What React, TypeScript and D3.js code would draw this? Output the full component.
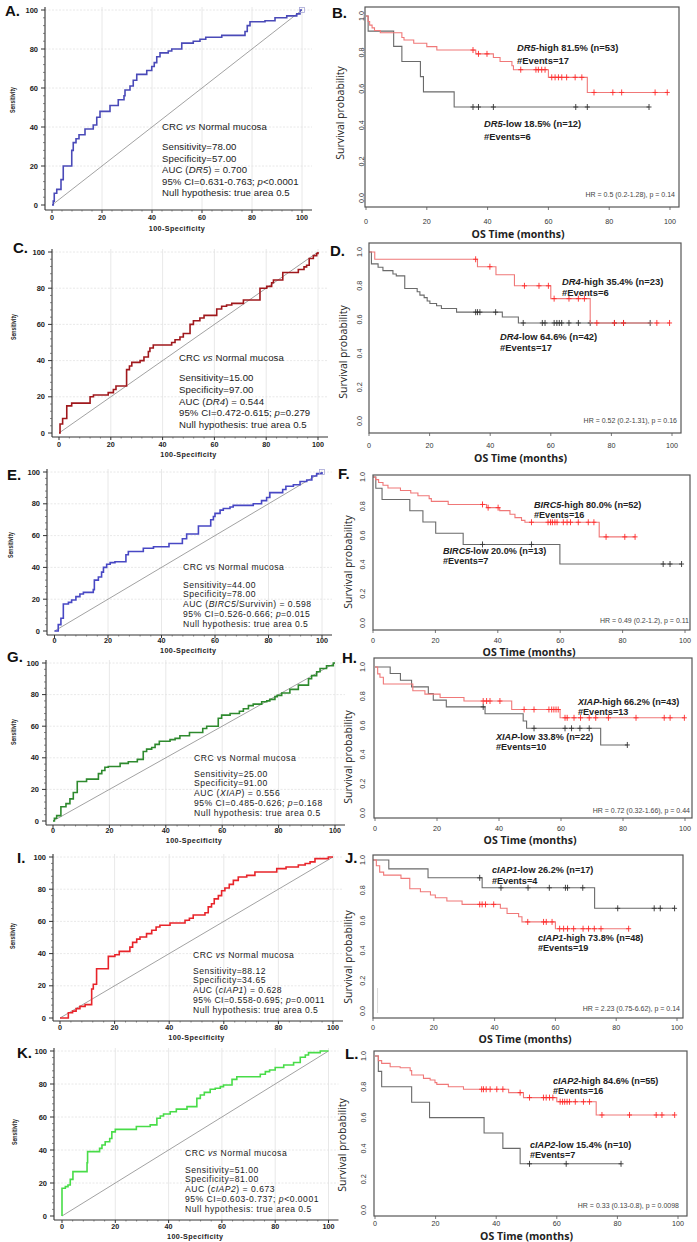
import React from "react";
import * as d3 from "d3";

// ---------- ROC data: [100-Specificity, Sensitivity] step corners ----------
const rocTicks = [0, 20, 40, 60, 80, 100];
const rocMinor = [4, 8, 12, 16, 24, 28, 32, 36, 44, 48, 52, 56, 64, 68, 72, 76, 84, 88, 92, 96];

const rocA: [number, number][] = [[0.5,2],[0.9,6],[1.9,8],[3.6,13],[4.5,20],[7.9,28],[8.5,32],[9.6,34],[10.8,36],[13.2,39],[16.5,41],[17.9,45],[19.2,48],[23.2,51],[26.5,54],[28.8,56],[29.2,59],[31.2,61],[32.5,64],[33.9,67],[37.9,69],[39.9,71],[40.9,73],[41.9,76],[43.2,78],[46.5,79],[47.9,80],[51.9,83],[56.5,84],[59.2,85],[61.5,86],[67.9,87],[77.2,89],[78.1,92],[79.2,94],[85.2,94.5],[89.2,96],[93.9,97],[97.9,98],[99.2,100],[100,100]];
const rocC: [number, number][] = [[0.4,5],[1.4,8],[3.0,15],[4.9,16.5],[12.0,20],[13.3,21],[19.0,22.3],[21.0,24],[22.0,26],[26.1,35],[27.2,37],[28.1,39],[31.3,40],[32.8,42],[34.5,45],[35.1,47],[36.4,48.6],[43.5,50],[44.8,51.5],[46.7,53],[48.0,55],[50.6,60],[51.9,62],[54.4,63.5],[56.0,65],[60.9,68.5],[62.8,70],[64.7,70.7],[66.7,71.6],[71.2,73.5],[77.6,80],[80.2,81],[82.1,83],[82.8,84.5],[86.4,88.7],[92.4,90.3],[94.6,91.8],[95.6,92.7],[96.6,96.4],[98.2,98],[99.5,99.2],[100,100]];
const rocE: [number, number][] = [[1.4,4],[2.4,8],[3.3,17],[5.2,18],[6.4,19.5],[8.0,21.6],[9.5,23.3],[10.8,24.3],[14.5,26],[14.9,32],[16.4,34],[17.6,37],[18.3,40],[19.5,42],[20.8,43],[22.6,43.6],[26.7,48],[27.6,50],[33.2,52],[37.0,53],[42.8,55],[47.8,58],[49.4,61],[53.8,66],[58.4,70],[59.4,72],[60.0,74],[61.9,76],[63.1,77],[65.6,78],[66.8,79],[74.3,80],[77.4,82],[79.3,84],[80.5,87],[85.3,89],[86.5,91],[89.3,92],[91.8,94],[94.3,95],[96.2,97.5],[98.0,99],[100,100]];
const rocG: [number, number][] = [[0.5,1.7],[1.3,3.4],[2.8,9],[4.6,11],[6.0,14],[7.2,18],[8.6,25],[11.9,26.5],[16.1,30],[17.3,32],[18.4,34],[19.6,34.5],[23.8,36.5],[26.7,37.5],[29.9,39],[32.0,44],[33.2,45.5],[35.0,46.5],[36.2,48.5],[37.7,50.5],[41.5,51.5],[43.3,52.3],[45.0,54],[48.4,56],[53.1,58.5],[54.5,60],[58.6,65],[59.8,67],[62.8,68],[66.1,69.5],[67.5,71],[69.3,73],[71.0,74],[74.0,75.5],[75.8,76],[76.9,77],[78.7,78.7],[79.5,79.5],[81.1,81],[84.0,83.3],[87.0,86],[90.6,90],[91.7,92],[93.5,94.5],[94.7,96.5],[97.0,98.3],[99.4,100],[100,100]];
const rocI: [number, number][] = [[3.05,3.3],[4.6,4.3],[5.9,5.8],[7.3,7.2],[9.2,8.3],[11.6,18],[12.2,21],[13.4,30.6],[17.7,38.3],[20.1,39.3],[21.7,41.4],[25.6,44],[26.6,47],[28.1,49],[29.3,50.3],[31.7,52.4],[33.6,54.5],[35.2,56.5],[36.6,57.6],[40.3,59],[45.8,60.7],[47.4,62],[48.8,64],[53.1,65.4],[54.3,69],[55.5,71],[56.5,74],[58.0,76],[59.2,79],[60.4,80.7],[62.0,83],[63.5,85.5],[65.3,87.6],[68.4,88.6],[71.4,90.7],[79.4,92.8],[82.8,93.8],[87.3,95],[89.8,96],[91.6,97],[93.4,99],[98.3,100],[100,100]];
const rocK: [number, number][] = [[0,16.8],[1.25,17.8],[2.25,18.8],[3.1,22.2],[4.1,26.9],[9.4,32.3],[9.6,39],[14.1,41],[15.0,43],[16.2,45],[17.9,47],[18.7,51],[20.0,52.5],[27.9,54.2],[33.1,55.2],[35.6,59.2],[36.9,60.6],[38.1,61.8],[40.6,63.2],[42.9,64.8],[46.9,66.3],[50.6,71.3],[51.9,73.3],[53.4,74.9],[55.6,76.8],[57.5,77.4],[59.4,78.4],[60.6,79.4],[63.8,82.8],[65.6,84.4],[74.4,85.9],[76.3,87.5],[77.9,88.5],[80.0,90],[83.2,91.5],[86.9,93],[89.4,96.2],[91.3,97.6],[92.5,99],[96.9,100],[100,100]];

const rocGenes = ["DR5", "DR4", "BIRC5", "XIAP", "cIAP1", "cIAP2"];
const rocGeneSuffix = ["", "", "/Survivin", "", "", ""];
const rocSens = ["78.00", "15.00", "44.00", "25.00", "88.12", "51.00"];
const rocSpec = ["57.00", "97.00", "78.00", "91.00", "34.65", "81.00"];
const rocAuc = ["0.700", "0.544", "0.598", "0.556", "0.628", "0.673"];
const rocCi = ["0.631-0.763", "0.472-0.615", "0.526-0.666", "0.485-0.626", "0.558-0.695", "0.603-0.737"];
const rocP = ["<0.0001", "=0.279", "=0.015", "=0.168", "=0.0011", "<0.0001"];
const rocVsItalic = [true, true, false, false, true, true];

// ---------- Kaplan-Meier data: steps [months, survival after drop], censor times ----------
const kmTicksX = [0, 20, 40, 60, 80, 100];
const kmTicksY = [0, 0.2, 0.4, 0.6, 0.8, 1.0];

const kmBHigh: [number, number][] = [[0.7,0.97],[1.2,0.95],[2.0,0.935],[2.8,0.92],[4.7,0.908],[11.8,0.882],[12.5,0.868],[15.7,0.85],[20,0.832],[23.3,0.813],[36.1,0.792],[41.9,0.772],[44.1,0.75],[48.0,0.727],[48.5,0.705],[60.0,0.663],[72.8,0.58]];
const kmBHighCens = [35.2,37.0,39.8,50.9,55.9,56.7,57.8,58.9,61.1,62.2,63.3,64.4,66.0,68.8,71.0,75.0,81.2,84.1,95.1,99.1];
const kmBLow: [number, number][] = [[0.7,0.917],[9.1,0.833],[11.8,0.75],[17.9,0.667],[18.9,0.583],[29.0,0.5]];
const kmBLowCens = [35.2,37.0,41.9,69.0,72.8,93.1];

const kmDHigh: [number, number][] = [[1.9,0.957],[35.8,0.913],[41.9,0.865],[48.0,0.80],[60.0,0.724],[73.0,0.58]];
const kmDHighCens = [35.2,39.9,51.3,56.1,59.2,61.1,66.0,69.1,71.1,75.2,81.0,84.0,95.0,99.2];
const kmDLow: [number, number][] = [[0.8,0.93],[3.0,0.91],[4.6,0.89],[7.9,0.87],[9.0,0.859],[11.8,0.784],[15.9,0.765],[16.8,0.745],[18.2,0.73],[19.2,0.71],[20.1,0.695],[22.3,0.682],[23.9,0.666],[28.9,0.644],[44.0,0.615],[49.3,0.58]];
const kmDLowCens = [35.2,35.8,36.6,41.8,50.9,57.2,58.1,61.1,62.0,62.8,63.6,66.0,69.1,73.0,81.0,84.0,92.8];

const kmFHigh: [number, number][] = [[0.86,0.982],[1.8,0.962],[3.2,0.943],[4.8,0.925],[8.8,0.908],[12.1,0.89],[14.4,0.872],[18.0,0.852],[18.7,0.833],[24.1,0.812],[36.4,0.79],[40.6,0.77],[43.9,0.745],[45.5,0.722],[47.6,0.703],[48.7,0.69],[72.5,0.59]];
const kmFHighCens = [35.1,36.9,40.1,50.8,56.1,56.9,57.5,58.3,59.0,61.0,62.2,63.3,65.8,69.0,70.8,74.7,80.7,84.0];
const kmFLow: [number, number][] = [[0.9,0.923],[2.9,0.846],[11.8,0.769],[16.0,0.692],[20.1,0.615],[28.9,0.538],[59.9,0.404]];
const kmFLowCens = [35.1,50.8,93.0,95.2,98.9];

const kmHHigh: [number, number][] = [[0.86,0.953],[1.6,0.93],[2.7,0.884],[12.2,0.837],[16.1,0.814],[21.0,0.791],[28.7,0.767],[44.1,0.709],[59.7,0.652]];
const kmHHighCens = [34.9,36.0,37.1,40.3,48.1,51.3,56.1,57.0,57.7,58.4,59.1,61.3,62.0,64.2,66.3,69.1,71.2,75.3,84.2,93.3,95.2,99.8];
const kmHLow: [number, number][] = [[4.9,0.955],[8.2,0.909],[11.8,0.864],[17.2,0.818],[18.8,0.773],[23.0,0.727],[35.5,0.68],[47.8,0.63],[48.9,0.58],[72.8,0.466]];
const kmHLowCens = [34.9,51.3,61.3,63.4,66.1,69.1,81.4];

const kmJLow: [number, number][] = [[5.2,0.941],[18.1,0.882],[35.9,0.816],[72.9,0.68]];
const kmJLowCens = [35.1,42.1,51.0,58.0,63.3,64.0,69.0,80.5,92.5,94.5,99.2];
const kmJHigh: [number, number][] = [[1.1,0.962],[2.2,0.92],[3.5,0.9],[9.2,0.878],[12.1,0.81],[15.6,0.79],[18.9,0.768],[20.5,0.75],[24.3,0.728],[29.3,0.706],[41.9,0.68],[44.1,0.646],[47.9,0.624],[49.0,0.59],[60.0,0.545]];
const kmJHighCens = [35.1,35.9,37.0,39.7,50.9,56.1,57.0,58.9,61.4,62.7,64.0,66.0,69.1,70.9,72.8,75.0,84.1];

const kmLHigh: [number, number][] = [[1.1,0.97],[2.2,0.952],[5.0,0.93],[8.3,0.924],[11.6,0.905],[12.1,0.877],[16.0,0.855],[18.2,0.844],[19.8,0.827],[20.4,0.816],[24.2,0.8],[29.2,0.784],[44.1,0.762],[49.0,0.73],[60.0,0.703],[73.0,0.617]];
const kmLHighCens = [35.2,35.8,36.7,38.0,40.2,42.2,47.9,51.0,55.6,56.5,57.6,58.7,61.1,61.9,62.6,63.4,64.2,66.1,68.8,70.8,74.9,84.0,92.8,94.7,98.9];
const kmLLow: [number, number][] = [[1.1,0.9],[2.2,0.8],[12.1,0.7],[18.0,0.6],[36.0,0.5],[42.2,0.4],[47.9,0.3]];
const kmLLowCens = [51.0,63.1,81.2];

const kmGenes = ["DR5", "DR4", "BIRC5", "XIAP", "cIAP1", "cIAP2"];
const kmHighLab = ["-high 81.5% (n=53)", "-high 35.4% (n=23)", "-high 80.0% (n=52)", "-high 66.2% (n=43)", "-high 73.8% (n=48)", "-high 84.6% (n=55)"];
const kmHighEv = ["#Events=17", "#Events=6", "#Events=16", "#Events=13", "#Events=19", "#Events=16"];
const kmLowLab = ["-low 18.5% (n=12)", "-low 64.6% (n=42)", "-low 20.0% (n=13)", "-low 33.8% (n=22)", "-low 26.2% (n=17)", "-low 15.4% (n=10)"];
const kmLowEv = ["#Events=6", "#Events=17", "#Events=7", "#Events=10", "#Events=4", "#Events=7"];
const kmHr = ["HR = 0.5 (0.2-1.28), p = 0.14", "HR = 0.52 (0.2-1.31), p = 0.16", "HR = 0.49 (0.2-1.2), p = 0.11", "HR = 0.72 (0.32-1.66), p = 0.44", "HR = 2.23 (0.75-6.62), p = 0.14", "HR = 0.33 (0.13-0.8), p = 0.0098"];

// ---------- layout ----------
const rocGeo = [
  { letter: "A.", x0: 52, x100: 302, y0: 205, y100: 10, axX: 45, axY: 210, xl: 217, tl: 228, sx: 12, sy: 100, lx: 5, ly: 16, tx: 162, ty: [127, 147, 158.5, 170, 181.5, 193], fs: 9.6, ls: 0.1, color: "#4a4ab8", marker: true },
  { letter: "C.", x0: 59, x100: 318, y0: 433, y100: 252, axX: 52, axY: 437, xl: 444, tl: 454, sx: 13, sy: 327, lx: 13, ly: 253, tx: 179, ty: [358, 378, 389.7, 401.4, 413.1, 424.8], fs: 9.6, ls: 0.1, color: "#a0181c", marker: false },
  { letter: "E.", x0: 54.5, x100: 322, y0: 631, y100: 472, axX: 47, axY: 635, xl: 640, tl: 650, sx: 10, sy: 545, lx: 7, ly: 480, tx: 183, ty: [567, 584.5, 594.4, 604.3, 614.2, 624.1], fs: 8.6, ls: 0.45, color: "#4848c4", marker: true },
  { letter: "G.", x0: 53, x100: 335, y0: 821, y100: 663, axX: 46, axY: 825, xl: 830, tl: 840, sx: 13, sy: 732, lx: 7, ly: 662, tx: 194, ty: [758, 773.5, 783.4, 793.3, 803.2, 813.1], fs: 8.6, ls: 0.5, color: "#2e8a2e", marker: false },
  { letter: "I.", x0: 60, x100: 333, y0: 1018, y100: 857, axX: 53, axY: 1021, xl: 1027, tl: 1037, sx: 12, sy: 936, lx: 17, ly: 863, tx: 193, ty: [955, 970.5, 980.4, 990.3, 1000.2, 1010.1], fs: 8.6, ls: 0.45, color: "#e8242a", marker: false },
  { letter: "K.", x0: 62, x100: 328.5, y0: 1216, y100: 1051, axX: 54, axY: 1220, xl: 1226, tl: 1236, sx: 14, sy: 1132, lx: 17, ly: 1058, tx: 185, ty: [1153, 1169.5, 1179.4, 1189.3, 1199.2, 1209.1], fs: 8.6, ls: 0.5, color: "#48dc48", marker: false },
];

const kmGeo = [
  { letter: "B.", L: 365, R: 679, T: 7, B: 207, x0: 366, x100: 670, y1: 16, y0: 198, xl: 221, tl: 234, yl: 361, sx: 340, sy: 113, lx: 332, ly: 18, hx: 517, hy: 48, lox: 484, loy: 124, gap: 13, hrx: 675, hry: 195, fs: 9.4 },
  { letter: "D.", L: 369, R: 681, T: 243, B: 433, x0: 369, x100: 672, y1: 252, y0: 421, xl: 445, tl: 458, yl: 359, sx: 343, sy: 352, lx: 330, ly: 256, hx: 562, hy: 282, lox: 500, loy: 337, gap: 11.2, hrx: 677, hry: 421, fs: 9.4 },
  { letter: "F.", L: 373, R: 690, T: 475, B: 630, x0: 373, x100: 685, y1: 477, y0: 623, xl: 640, tl: 652, yl: 362, sx: 348, sy: 562, lx: 338, ly: 479, hx: 534, hy: 504.5, lox: 443, loy: 550.5, gap: 10.6, hrx: 689, hry: 621, fs: 9.1 },
  { letter: "H.", L: 374, R: 692, T: 658, B: 818, x0: 375, x100: 685, y1: 667, y0: 813, xl: 828, tl: 840, yl: 362, sx: 348, sy: 757, lx: 342, ly: 663, hx: 578, hy: 701.5, lox: 496, loy: 736.5, gap: 10.6, hrx: 690, hry: 811, fs: 9.1 },
  { letter: "J.", L: 373, R: 683, T: 855, B: 1018, x0: 373, x100: 677, y1: 860, y0: 1011, xl: 1027, tl: 1039, yl: 362, sx: 348, sy: 957, lx: 345, ly: 863, hx: 538, hy: 937.5, lox: 492, loy: 870, gap: 10.6, hrx: 680, hry: 1009, fs: 9.1 },
  { letter: "L.", L: 374, R: 687, T: 1051, B: 1216, x0: 375, x100: 678, y1: 1056, y0: 1210, xl: 1223, tl: 1236, yl: 363, sx: 342, sy: 1145, lx: 345, ly: 1059, hx: 553, hy: 1080.5, lox: 530, loy: 1144.5, gap: 10.6, hrx: 679, hry: 1206, fs: 9.1 },
];

const rocSeries = [rocA, rocC, rocE, rocG, rocI, rocK];
const kmSeries = [
  { high: kmBHigh, highC: kmBHighCens, low: kmBLow, lowC: kmBLowCens },
  { high: kmDHigh, highC: kmDHighCens, low: kmDLow, lowC: kmDLowCens },
  { high: kmFHigh, highC: kmFHighCens, low: kmFLow, lowC: kmFLowCens },
  { high: kmHHigh, highC: kmHHighCens, low: kmHLow, lowC: kmHLowCens },
  { high: kmJHigh, highC: kmJHighCens, low: kmJLow, lowC: kmJLowCens },
  { high: kmLHigh, highC: kmLHighCens, low: kmLLow, lowC: kmLLowCens },
];

const AX_FONT = "'Liberation Sans', Arial, sans-serif";
const KM_FONT = "'Open Sans', 'Noto Sans', sans-serif";

function RocPanel({ g, data, i }: any) {
  const x = d3.scaleLinear().domain([0, 100]).range([g.x0, g.x100]);
  const y = d3.scaleLinear().domain([0, 100]).range([g.y0, g.y100]);
  const line = d3.line<[number, number]>().x((d) => x(d[0])).y((d) => y(d[1])).curve(d3.curveStepAfter);
  const pts: [number, number][] = [[0, 0], ...data];
  const right = x(100) + 10;
  const top = y(100) - 3;
  return (
    <g>
      {rocTicks.slice(1).map((t) => (
        <line key={"gv" + t} x1={x(t)} x2={x(t)} y1={top} y2={g.axY} stroke="#e2e2e2" strokeWidth={0.8} />
      ))}
      {rocTicks.slice(1).map((t) => (
        <line key={"gh" + t} x1={g.axX} x2={right} y1={y(t)} y2={y(t)} stroke="#e2e2e2" strokeWidth={0.8} strokeDasharray="2,1.5" />
      ))}
      <line x1={x(0)} y1={y(0)} x2={x(100)} y2={y(100)} stroke="#8a8a8a" strokeWidth={0.8} />
      <path d={line(pts) || ""} fill="none" stroke={g.color} strokeWidth={1.6} />
      {g.marker && <rect x={x(100) - 2.5} y={y(100) - 2.5} width={5} height={5} fill="none" stroke="#a8a8d8" strokeWidth={0.8} />}
      <line x1={g.axX} x2={g.axX} y1={top} y2={g.axY} stroke="#333" strokeWidth={1.1} />
      <line x1={g.axX} x2={right} y1={g.axY} y2={g.axY} stroke="#333" strokeWidth={1.1} />
      {rocTicks.map((t) => (
        <g key={"t" + t}>
          <line x1={g.axX - 4} x2={g.axX} y1={y(t)} y2={y(t)} stroke="#333" strokeWidth={1} />
          <line x1={x(t)} x2={x(t)} y1={g.axY} y2={g.axY + 3} stroke="#333" strokeWidth={1} />
          <text x={g.axX - 7} y={y(t)} dy="0.35em" textAnchor="end" fontFamily={AX_FONT} fontWeight="bold" fontSize={7.5} fill="#222">{t}</text>
          <text x={x(t)} y={g.xl} dy="0.35em" textAnchor="middle" fontFamily={AX_FONT} fontWeight="bold" fontSize={7.2} fill="#222">{t}</text>
        </g>
      ))}
      {rocMinor.map((t) => (
        <g key={"m" + t}>
          <line x1={g.axX - 2} x2={g.axX} y1={y(t)} y2={y(t)} stroke="#555" strokeWidth={0.7} />
          <line x1={x(t)} x2={x(t)} y1={g.axY} y2={g.axY + 1.5} stroke="#555" strokeWidth={0.7} />
        </g>
      ))}
      <text x={(x(0) + x(100)) / 2} y={g.tl} dy="0.35em" textAnchor="middle" fontFamily={AX_FONT} fontWeight="bold" fontSize={7.2} letterSpacing={0.4} fill="#222">100-Specificity</text>
      <text transform={`translate(${g.sx},${g.sy}) rotate(-90)`} dy="0.35em" textAnchor="middle" fontFamily={AX_FONT} fontWeight="bold" fontSize={7.5} fill="#222" textLength={26} lengthAdjust="spacingAndGlyphs">Sensitivity</text>
      <text x={g.lx} y={g.ly} fontFamily={AX_FONT} fontWeight="bold" fontSize={15} fill="#111">{g.letter}</text>
      <g fontFamily={AX_FONT} fontSize={g.fs} letterSpacing={g.ls} fill="#1a1a1a">
        <text x={g.tx} y={g.ty[0]} dy="0.35em">CRC <tspan fontStyle={rocVsItalic[i] ? "italic" : "normal"}>vs</tspan> Normal mucosa</text>
        <text x={g.tx} y={g.ty[1]} dy="0.35em">Sensitivity={rocSens[i]}</text>
        <text x={g.tx} y={g.ty[2]} dy="0.35em">Specificity={rocSpec[i]}</text>
        <text x={g.tx} y={g.ty[3]} dy="0.35em">AUC (<tspan fontStyle="italic">{rocGenes[i]}</tspan>{rocGeneSuffix[i]}) = {rocAuc[i]}</text>
        <text x={g.tx} y={g.ty[4]} dy="0.35em">95% CI={rocCi[i]}; <tspan fontStyle="italic">p</tspan>{rocP[i]}</text>
        <text x={g.tx} y={g.ty[5]} dy="0.35em">Null hypothesis: true area 0.5</text>
      </g>
    </g>
  );
}

function survAt(steps: [number, number][], t: number) {
  let s = 1;
  for (const [tt, ss] of steps) if (tt <= t) s = ss;
  return s;
}

function KmCurve({ steps, cens, x, y, line, color, cross }: any) {
  const end = Math.max(d3.max(cens as number[]) || 0, steps[steps.length - 1][0]);
  const pts: [number, number][] = [[0, 1], ...steps, [end, steps[steps.length - 1][1]]];
  return (
    <g>
      <path d={line(pts)} fill="none" stroke={color} strokeWidth={1.1} />
      {cens.map((t: number, k: number) => {
        const cx = x(t), cy = y(survAt(steps, t));
        return (
          <g key={k} stroke={cross} strokeWidth={0.9}>
            <line x1={cx - 2.5} x2={cx + 2.5} y1={cy} y2={cy} />
            <line x1={cx} x2={cx} y1={cy - 3} y2={cy + 3} />
          </g>
        );
      })}
    </g>
  );
}

function KmPanel({ g, s, i }: any) {
  const x = d3.scaleLinear().domain([0, 100]).range([g.x0, g.x100]);
  const y = d3.scaleLinear().domain([0, 1]).range([g.y0, g.y1]);
  const line = d3.line<[number, number]>().x((d) => x(d[0])).y((d) => y(d[1])).curve(d3.curveStepAfter);
  const bold = { fontFamily: AX_FONT, fontWeight: 700, fontSize: g.fs, fill: "#222" } as any;
  return (
    <g>
      <KmCurve steps={s.low} cens={s.lowC} x={x} y={y} line={line} color="#6a6a6a" cross="#333" />
      <KmCurve steps={s.high} cens={s.highC} x={x} y={y} line={line} color="#f07878" cross="#ff2a2a" />
      <rect x={g.L} y={g.T} width={g.R - g.L} height={g.B - g.T} fill="none" stroke="#555" strokeWidth={1.2} />
      {kmTicksX.map((t) => (
        <g key={"x" + t}>
          <line x1={x(t)} x2={x(t)} y1={g.B} y2={g.B + 3} stroke="#555" strokeWidth={0.8} />
          <text x={x(t)} y={g.xl} dy="0.35em" textAnchor="middle" fontFamily={AX_FONT} fontSize={7.2} fill="#333">{t}</text>
        </g>
      ))}
      {kmTicksY.map((t) => (
        <text key={"y" + t} transform={`translate(${g.yl},${y(t)}) rotate(-90)`} dy="0.35em" textAnchor="middle" fontFamily={AX_FONT} fontSize={7.2} fill="#333">{t.toFixed(1)}</text>
      ))}
      <text x={(g.x0 + g.x100) / 2} y={g.tl} dy="0.35em" textAnchor="middle" fontFamily={KM_FONT} fontWeight={700} fontSize={10.5} fill="#222">OS Time (months)</text>
      <text transform={`translate(${g.sx},${g.sy}) rotate(-90)`} dy="0.35em" textAnchor="middle" fontFamily={KM_FONT} fontSize={10.5} fill="#222">Survival probability</text>
      <text x={g.lx} y={g.ly} fontFamily={AX_FONT} fontWeight="bold" fontSize={15} fill="#111">{g.letter}</text>
      <text x={g.hx} y={g.hy} dy="0.35em" {...bold}><tspan fontStyle="italic">{kmGenes[i]}</tspan>{kmHighLab[i]}</text>
      <text x={g.hx} y={g.hy + g.gap} dy="0.35em" {...bold}>{kmHighEv[i]}</text>
      <text x={g.lox} y={g.loy} dy="0.35em" {...bold}><tspan fontStyle="italic">{kmGenes[i]}</tspan>{kmLowLab[i]}</text>
      <text x={g.lox} y={g.loy + g.gap} dy="0.35em" {...bold}>{kmLowEv[i]}</text>
      <text x={g.hrx} y={g.hry} dy="0.35em" textAnchor="end" fontFamily={AX_FONT} fontSize={7} fill="#444">{kmHr[i]}</text>
      {i === 4 && <line x1={x(1.5)} x2={x(1.5)} y1={988} y2={1013} stroke="#cfcfcf" strokeWidth={0.8} />}
    </g>
  );
}

export default function App() {
  return (
    <div style={{ position: "absolute", left: 0, top: 0 }}>
      <svg width={697} height={1242} viewBox="0 0 697 1242" style={{ display: "block", background: "#fff" }}>
        <rect x={0} y={0} width={697} height={1242} fill="#fff" />
        {rocGeo.map((g, i) => (
          <RocPanel key={"r" + i} g={g} data={rocSeries[i]} i={i} />
        ))}
        {kmGeo.map((g, i) => (
          <KmPanel key={"k" + i} g={g} s={kmSeries[i]} i={i} />
        ))}
      </svg>
    </div>
  );
}
